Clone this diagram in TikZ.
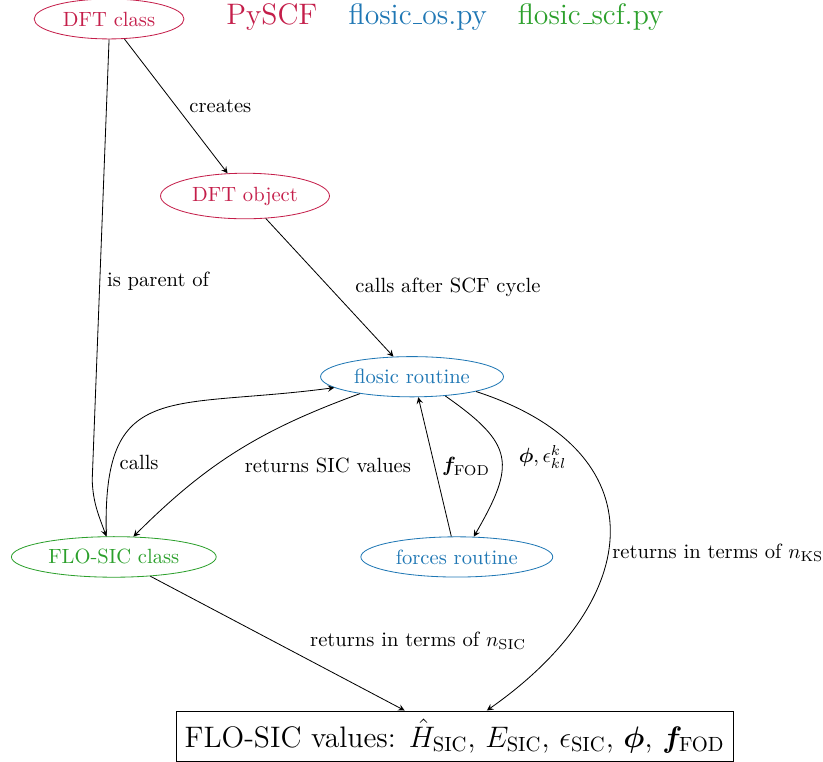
\documentclass[tikz,border=0pt]{standalone}
\usepackage{amsmath,amssymb,bm}
\usepackage{tikz}
\usetikzlibrary{shapes,arrows,positioning,calc}

\definecolor{pyscfred}{RGB}{196,30,74}
\definecolor{osblue}{RGB}{31,119,180}
\definecolor{scfgreen}{RGB}{44,160,44}
\newcommand{\shortus}{\leavevmode\kern.06em\vbox{\hrule width.3em}}

\begin{document}
\begin{tikzpicture}[scale=0.9]
			\tikzstyle{Box}		= [ellipse, draw]
			\tikzstyle{PY}		= [Box, pyscfred, text=pyscfred]
			\tikzstyle{OS}		= [Box, osblue, text=osblue]
			\tikzstyle{SCF}		= [Box, scfgreen, text=scfgreen]
			\tikzstyle{Arr}		= [->, >=stealth]

			\useasboundingbox (0,0) rectangle (15.62,-14.46);

			\node (dftclass) at (2.07,-0.36) [PY] {DFT class};
			\node (legpy) at (5.16,-0.32) [text=pyscfred] {\Large PySCF};
			\node (legos) at (7.93,-0.32) [text=osblue] {\Large flosic\shortus os.py};
			\node (legscf) at (11.21,-0.32) [text=scfgreen] {\Large flosic\shortus scf.py};
			\node (dftobj) at (4.65,-3.72) [PY] {DFT object};
			\node (flosic) at (7.82,-7.15) [OS] {flosic routine};
			\node (floclass) at (2.16,-10.57) [SCF] {FLO-SIC class};
			\node (forces) at (8.67,-10.57) [OS] {forces routine};
			\node (values) at (8.63,-13.97) [draw, inner sep=4pt] {\Large FLO-SIC values: $\hat{H}_{\mathrm{SIC}}$, $E_{\mathrm{SIC}}$, $\epsilon_{\mathrm{SIC}}$, $\boldsymbol{\phi}$, $\boldsymbol{f}_{\mathrm{FOD}}$};
			\coordinate (bend) at (1.75,-9.11);

			\draw [Arr] (dftclass) to node[right, pos=0.5, xshift=3pt] {creates} (dftobj);
			\draw [Arr] (dftclass.south) -- node[right, pos=0.55] {is parent of} (bend) to [out=-88, in=110] (floclass.110);
			\draw [Arr] (dftobj) to node[right, pos=0.5, xshift=9pt] {calls after SCF cycle} (flosic);
			\draw [Arr] (floclass.110) .. controls +(-0.08,3.0) and +(-3.17,-0.42) .. node[pos=0.2, right] {calls} (flosic.188);
			\draw [Arr] (flosic.198) to [out=200, in=45] node[pos=0.5, below right] {returns SIC values} (floclass.46);
			\draw [Arr] (forces.105) to node[right, pos=0.5] {$\boldsymbol{f}_{\mathrm{FOD}}$} (flosic.-73);
			\draw [Arr] (flosic.-30) to [out=-35, in=60, looseness=1.5] node[right, pos=0.5, xshift=5pt] {$\boldsymbol{\phi}, \epsilon_{kl}^{k}$} (forces.50);
			\draw [Arr] (flosic.-13) to [out=-18, in=35, looseness=1.55] node[pos=0.56, right, inner sep=2pt] {returns in terms of $n_{\mathrm{KS}}$} ($(values.north)+(0.61,0)$);
			\draw [Arr] (floclass) to node[pos=0.6, above right] {returns in terms of $n_{\mathrm{SIC}}$} ($(values.north)+(-0.95,0)$);
		\end{tikzpicture}
\end{document}
